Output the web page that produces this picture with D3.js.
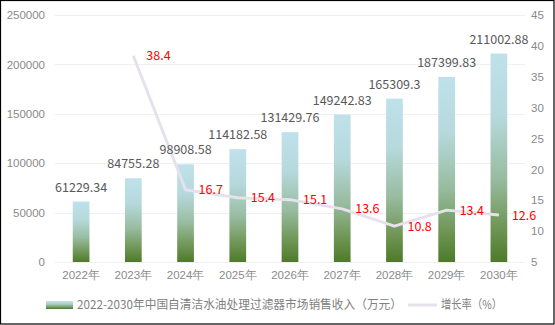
<!DOCTYPE html>
<html>
<head>
<meta charset="utf-8">
<script src="https://cdn.jsdelivr.net/npm/d3@7"></script>
<style>
  html, body { margin: 0; padding: 0; background: #fff; }
  svg { display: block; font-family: "Noto Sans CJK SC", "Noto Sans", sans-serif; }
</style>
</head>
<body>
<svg id="chart" width="555" height="325"></svg>
<script>
// Chart data
const years = ["2022年", "2023年", "2024年", "2025年", "2026年", "2027年", "2028年", "2029年", "2030年"];
const revenue = [61229.34, 84755.28, 98908.58, 114182.58, 131429.76, 149242.83, 165309.3, 187399.83, 211002.88];
const growth = [null, 38.4, 16.7, 15.4, 15.1, 13.6, 10.8, 13.4, 12.6];
const leftTicks = [0, 50000, 100000, 150000, 200000, 250000];
const rightTicks = [5, 10, 15, 20, 25, 30, 35, 40, 45];
const legendLabels = ["2022-2030年中国自清洁水油处理过滤器市场销售收入（万元）", "增长率（%）"];

const svg = d3.select("#chart");
const W = 555, H = 325;
const plot = { left: 55, right: 525, top: 15, bottom: 262 };

// Gradient used for each bar: light blue at top to dark green at bottom
const defs = svg.append("defs");
const grad = defs.append("linearGradient")
  .attr("id", "barGrad").attr("x1", 0).attr("y1", 0).attr("x2", 0).attr("y2", 1);
[[0, "#bfe1ea"], [0.3, "#b6d9dd"], [0.6, "#98bc9f"], [0.85, "#6c9350"], [1, "#4e7a2b"]]
  .forEach(([o, c]) => grad.append("stop").attr("offset", o).attr("stop-color", c));
const lgGrad = defs.append("linearGradient")
  .attr("id", "legGrad").attr("x1", 0).attr("y1", 0).attr("x2", 0).attr("y2", 1);
[[0, "#c4e3ea"], [0.4, "#a9cdc4"], [1, "#4e7a2b"]]
  .forEach(([o, c]) => lgGrad.append("stop").attr("offset", o).attr("stop-color", c));

// Scales
const x = d3.scaleBand().domain(years).range([plot.left, plot.right])
  .paddingInner(0.68).paddingOuter(0.34);
const yL = d3.scaleLinear().domain([0, 250000]).range([plot.bottom, plot.top]);
const yR = d3.scaleLinear().domain([5, 45]).range([plot.bottom, plot.top]);

// Frame
svg.append("rect").attr("x", 0.5).attr("y", 0.5).attr("width", W - 1.5).attr("height", H - 1.5)
  .attr("fill", "#fff").attr("stroke", "#000").attr("stroke-width", 1.2);

// Horizontal gridlines
svg.append("g").selectAll("line").data(leftTicks).join("line")
  .attr("x1", plot.left).attr("x2", plot.right)
  .attr("y1", d => Math.round(yL(d)) + 0.5).attr("y2", d => Math.round(yL(d)) + 0.5)
  .attr("stroke", "#f0f0f0").attr("stroke-width", 1);

// Left axis
const axL = svg.append("g").attr("transform", `translate(${plot.left - 8},0)`)
  .call(d3.axisLeft(yL).tickValues(leftTicks).tickSize(0).tickPadding(2).tickFormat(d3.format("d")));
axL.select(".domain").remove();
axL.selectAll("text").attr("fill", "#8a8a8a").style("font-size", "11.5px").style("font-family", "inherit");

// Right axis
const axR = svg.append("g").attr("transform", `translate(${plot.right + 5},0)`)
  .call(d3.axisRight(yR).tickValues(rightTicks).tickSize(0).tickPadding(1));
axR.select(".domain").remove();
axR.selectAll("text").attr("fill", "#8a8a8a").style("font-size", "11.5px").style("font-family", "inherit");

// Bottom axis
const axB = svg.append("g").attr("transform", `translate(0,${plot.bottom + 7})`)
  .call(d3.axisBottom(x).tickSize(0).tickPadding(2));
axB.select(".domain").remove();
axB.selectAll("text").attr("fill", "#8a8a8a").style("font-size", "11.5px").style("font-family", "inherit");

// Bars
svg.append("g").selectAll("rect").data(revenue).join("rect")
  .attr("x", (d, i) => x(years[i])).attr("width", x.bandwidth())
  .attr("y", d => yL(d)).attr("height", d => yL(0) - yL(d))
  .attr("fill", "url(#barGrad)");

// Growth line (over the bars, under the labels)
const pts = growth.map((g, i) => ({ year: years[i], g })).filter(d => d.g !== null);
const line = d3.line().x(d => x(d.year) + x.bandwidth() / 2).y(d => yR(d.g));
svg.append("path").datum(pts).attr("d", line)
  .attr("fill", "none").attr("stroke", "#e6e1ed").attr("stroke-width", 3)
  .attr("stroke-linejoin", "round").attr("stroke-linecap", "butt");

// Bar value labels
svg.append("g").selectAll("text").data(revenue).join("text")
  .attr("x", (d, i) => x(years[i]) + x.bandwidth() / 2)
  .attr("y", d => yL(d) - 10)
  .attr("text-anchor", "middle").attr("fill", "#595959").style("font-size", "12.5px")
  .text(d => d);

// Growth labels
svg.append("g").selectAll("text").data(pts).join("text")
  .attr("x", d => x(d.year) + x.bandwidth() / 2 + 13)
  .attr("y", d => yR(d.g)).attr("dy", "0.36em")
  .attr("fill", "#ff0000").style("font-size", "12.5px")
  .text(d => d.g.toFixed(1));

// Legend
const lg = svg.append("g");
lg.append("rect").attr("x", 46).attr("y", 301).attr("width", 27).attr("height", 8).attr("fill", "url(#legGrad)");
lg.append("text").attr("x", 77).attr("y", 305).attr("dy", "0.36em")
  .attr("fill", "#808080").style("font-size", "12px")
  .attr("textLength", 325).attr("lengthAdjust", "spacingAndGlyphs")
  .text(legendLabels[0]);
lg.append("line").attr("x1", 408).attr("x2", 437).attr("y1", 305).attr("y2", 305)
  .attr("stroke", "#e6e1ed").attr("stroke-width", 3);
lg.append("text").attr("x", 441).attr("y", 305).attr("dy", "0.36em")
  .attr("fill", "#808080").style("font-size", "12px")
  .attr("textLength", 61).attr("lengthAdjust", "spacingAndGlyphs")
  .text(legendLabels[1]);
</script>
</body>
</html>
